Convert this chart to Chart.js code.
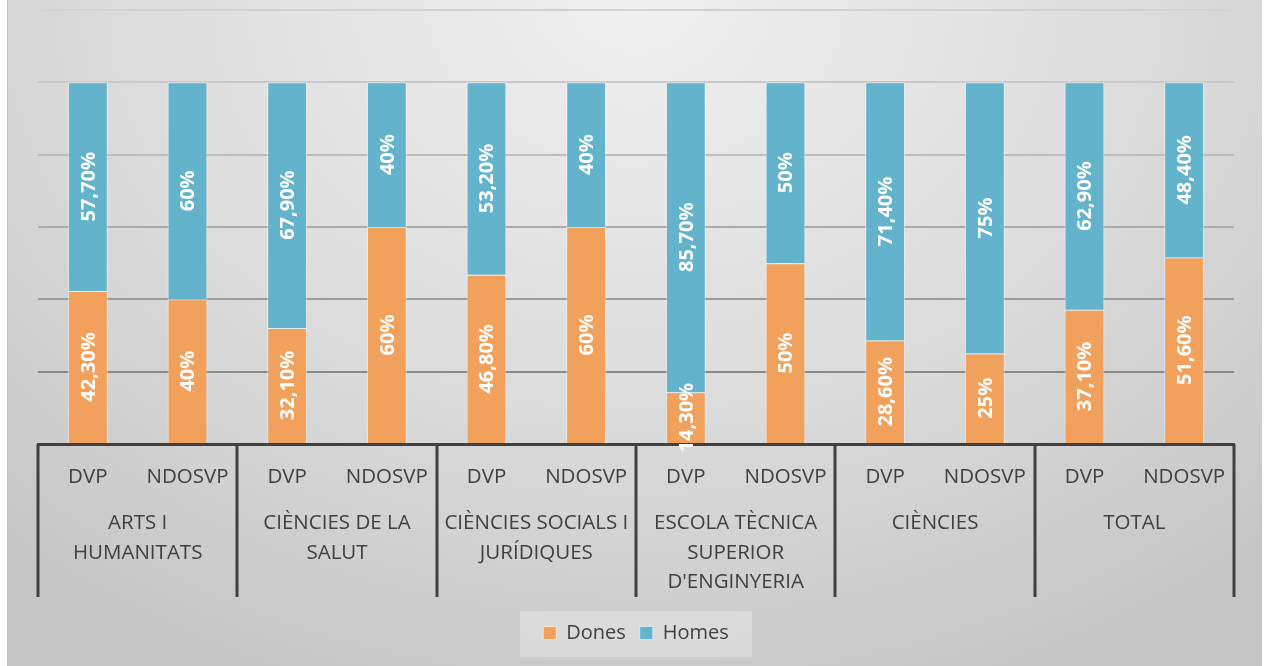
<!DOCTYPE html>
<html>
<head>
<meta charset="utf-8">
<script src="https://cdn.jsdelivr.net/npm/chart.js@4"></script>
<style>
  body { margin: 0; background: #fff; }
  #wrap {
    position: absolute; left: 7px; top: 0; width: 1255px; height: 666px;
    background: radial-gradient(ellipse 75% 110% at 50% 0%, #f0f0f0 0%, #dcdcdc 55%, #c6c6c6 100%);
    border-left: 1px solid #c2c2c2; box-sizing: border-box;
  }
  canvas { display: block; }
</style>
</head>
<body>
<div id="wrap"><canvas id="chart" width="1254" height="666"></canvas></div>
<script>
// Categories
const subLabels = ["DVP", "NDOSVP", "DVP", "NDOSVP", "DVP", "NDOSVP", "DVP", "NDOSVP", "DVP", "NDOSVP", "DVP", "NDOSVP"];
const groupLabels = [
  ["ARTS I", "HUMANITATS"],
  ["CIÈNCIES DE LA", "SALUT"],
  ["CIÈNCIES SOCIALS I", "JURÍDIQUES"],
  ["ESCOLA TÈCNICA", "SUPERIOR", "D'ENGINYERIA"],
  ["CIÈNCIES"],
  ["TOTAL"]
];

// Series (%)
const dones = [42.3, 40, 32.1, 60, 46.8, 60, 14.3, 50, 28.6, 25, 37.1, 51.6];
const homes = [57.7, 60, 67.9, 40, 53.2, 40, 85.7, 50, 71.4, 75, 62.9, 48.4];

const textColor = "#404040";
const gridColors = ["#404040", "#8a8a8a", "#9c9c9c", "#ababab", "#bcbcbc", "#c9c9c9", "#d2d2d2"];

function fmt(v) {
  if (Number.isInteger(v)) return v + "%";
  return v.toFixed(2).replace(".", ",") + "%";
}

// white rotated value labels centred in each segment
const valueLabels = {
  id: "valueLabels",
  afterDatasetsDraw(chart) {
    const ctx = chart.ctx;
    ctx.save();
    ctx.fillStyle = "#fff";
    ctx.font = "bold 20px 'Open Sans'";
    ctx.textAlign = "center";
    ctx.textBaseline = "middle";
    chart.data.datasets.forEach((ds, di) => {
      chart.getDatasetMeta(di).data.forEach((bar, i) => {
        const y = (bar.y + bar.base) / 2;
        ctx.save();
        ctx.translate(bar.x, y);
        ctx.rotate(-Math.PI / 2);
        ctx.fillText(fmt(ds.data[i]), 0, 1);
        ctx.restore();
      });
    });
    ctx.restore();
  }
};

// group separators + legend background
const decor = {
  id: "decor",
  beforeDraw(chart) {
    const lg = chart.legend;
    if (!lg) return;
    const ctx = chart.ctx;
    const cx = (lg.left + lg.right) / 2;
    ctx.save();
    ctx.fillStyle = "rgba(255,255,255,0.28)";
    ctx.fillRect(cx - 116, lg.top + 2, 232, 46);
    ctx.restore();
  },
  afterDraw(chart) {
    const x = chart.scales.x;
    const ctx = chart.ctx;
    const step = x.getPixelForValue(1) - x.getPixelForValue(0);
    ctx.save();
    ctx.strokeStyle = textColor;
    ctx.lineWidth = 3;
    for (let k = 0; k <= groupLabels.length; k++) {
      const px = Math.round(x.getPixelForValue(k * 2) - step / 2);
      ctx.beginPath();
      ctx.moveTo(px, chart.chartArea.bottom);
      ctx.lineTo(px, 597);
      ctx.stroke();
    }
    ctx.restore();
  }
};

new Chart(document.getElementById("chart"), {
  type: "bar",
  data: {
    labels: subLabels,
    datasets: [
      { label: "Dones", data: dones, backgroundColor: "rgb(241,161,92)", borderColor: "rgba(255,255,255,0.55)", borderWidth: 1 },
      { label: "Homes", data: homes, backgroundColor: "rgb(98,179,203)", borderColor: "rgba(255,255,255,0.55)", borderWidth: 1 }
    ]
  },
  options: {
    responsive: false,
    animation: false,
    barPercentage: 0.4,
    categoryPercentage: 1,
    layout: { padding: { left: 30, right: 28, top: 10, bottom: 13 } },
    scales: {
      x: {
        stacked: true,
        grid: { display: false },
        border: { color: textColor, width: 3 },
        ticks: { color: textColor, font: { family: "'Open Sans'", size: 20.5 }, padding: 13, maxRotation: 0, autoSkip: false },
        afterFit(s) { s.height = 50; }
      },
      x2: {
        type: "category",
        position: "bottom",
        labels: groupLabels,
        offset: true,
        grid: { display: false },
        border: { display: false },
        ticks: { color: textColor, font: { family: "'Open Sans'", size: 20.5, lineHeight: 1.42 }, padding: 7, maxRotation: 0, autoSkip: false },
        afterFit(s) { s.height = 115; }
      },
      y: {
        stacked: true,
        min: 0,
        max: 120,
        ticks: { stepSize: 20, display: false },
        border: { display: false },
        grid: { drawTicks: false, lineWidth: 2, color: (c) => gridColors[c.index] || "#ccc" },
        afterFit(s) { s.width = 0; }
      }
    },
    plugins: {
      legend: {
        position: "bottom",
        labels: {
          color: textColor,
          font: { family: "'Open Sans'", size: 20 },
          boxWidth: 13,
          boxHeight: 13,
          padding: 14
        }
      },
      tooltip: { enabled: false }
    }
  },
  plugins: [valueLabels, decor]
});
</script>
</body>
</html>
